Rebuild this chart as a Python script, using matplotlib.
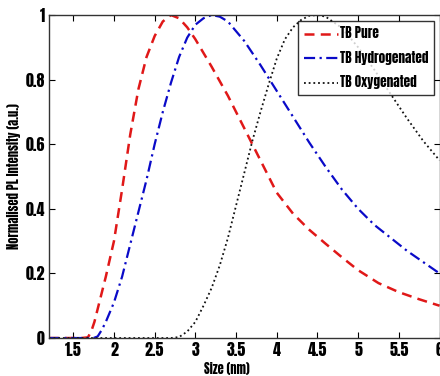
import matplotlib
matplotlib.use("Agg")
import matplotlib.pyplot as plt

size_nm_pure = [1.2, 1.4, 1.6, 1.68, 1.72, 1.76, 1.8, 1.85, 1.9, 2.0, 2.1, 2.2, 2.3, 2.4, 2.5, 2.6,
                2.7, 2.8, 2.9, 3.0, 3.2, 3.4, 3.6, 3.8, 4.0, 4.2, 4.4, 4.6, 4.8, 5.0, 5.25, 5.5,
                5.75, 6.0]
pure = [0, 0, 0, 0.002, 0.02, 0.05, 0.09, 0.14, 0.19, 0.30, 0.46, 0.63, 0.77, 0.87, 0.935, 0.98,
        1.0, 0.99, 0.962, 0.925, 0.84, 0.75, 0.65, 0.55, 0.45, 0.385, 0.335, 0.292, 0.25, 0.21,
        0.17, 0.142, 0.12, 0.10]

size_nm_hyd = [1.2, 1.5, 1.75, 1.8, 1.85, 1.9, 2.0, 2.1, 2.2, 2.3, 2.4, 2.5, 2.6, 2.7, 2.8, 2.9,
               3.0, 3.1, 3.2, 3.3, 3.4, 3.6, 3.8, 4.0, 4.2, 4.4, 4.6, 4.8, 5.0, 5.2, 5.4, 5.6,
               5.8, 6.0]
hydrogenated = [0, 0, 0, 0.005, 0.025, 0.05, 0.11, 0.19, 0.29, 0.39, 0.49, 0.60, 0.70, 0.79, 0.87,
                0.93, 0.97, 0.99, 1.0, 0.995, 0.98, 0.92, 0.845, 0.765, 0.685, 0.605, 0.53, 0.46,
                0.40, 0.35, 0.31, 0.27, 0.235, 0.20]

size_nm_oxy = [1.2, 2.0, 2.7, 2.8, 2.9, 3.0, 3.1, 3.2, 3.3, 3.4, 3.5, 3.6, 3.7, 3.8, 3.9, 4.0,
               4.1, 4.2, 4.3, 4.4, 4.5, 4.6, 4.8, 5.0, 5.2, 5.4, 5.6, 5.8, 6.0]
oxygenated = [0, 0, 0, 0.003, 0.02, 0.05, 0.10, 0.155, 0.225, 0.31, 0.41, 0.51, 0.61, 0.70, 0.785,
              0.865, 0.925, 0.962, 0.985, 0.998, 1.0, 0.995, 0.96, 0.90, 0.83, 0.755, 0.68, 0.61,
              0.55]

labels = ["TB Pure", "TB Hydrogenated", "TB Oxygenated"]
x_ticks = [1.5, 2, 2.5, 3, 3.5, 4, 4.5, 5, 5.5, 6]
x_tick_labels = ["1.5", "2", "2.5", "3", "3.5", "4", "4.5", "5", "5.5", "6"]
y_ticks = [0, 0.2, 0.4, 0.6, 0.8, 1]
y_tick_labels = ["0", "0.2", "0.4", "0.6", "0.8", "1"]

plt.rcParams["font.family"] = ["Anton", "Barlow Condensed", "DejaVu Sans"]

fig = plt.figure(figsize=(4.4, 3.76), dpi=100)
ax = fig.add_axes([0.111, 0.101, 0.888, 0.859])

ax.plot(size_nm_pure, pure, color="#e01818", lw=1.8, ls=(0, (4, 2.5)), label=labels[0])
ax.plot(size_nm_hyd, hydrogenated, color="#0a0ac8", lw=1.6, ls=(0, (5, 2, 1, 2)), label=labels[1])
ax.plot(size_nm_oxy, oxygenated, color="#111111", lw=1.3, ls=(0, (1, 1.6)), label=labels[2])

ax.set_xlim(1.2, 6)
ax.set_ylim(0, 1)
ax.set_xticks(x_ticks)
ax.set_xticklabels(x_tick_labels)
ax.set_yticks(y_ticks)
ax.set_yticklabels(y_tick_labels)
ax.tick_params(direction="in", top=True, right=True, length=4, labelsize=11.5, pad=3)
for s in ax.spines.values():
    s.set_color("#333333")
    s.set_linewidth(1.0)

ax.set_xlabel("Size (nm)", fontsize=9)
ax.xaxis.set_label_coords(0.455, -0.074)
ax.set_ylabel("Normalised PL Intensity (a.u.)", fontsize=9, labelpad=3)

leg = ax.legend(loc="upper right", prop={"size": 9.5}, frameon=True, fancybox=False,
                edgecolor="black", handlelength=2.6, borderaxespad=0.45,
                borderpad=0.4, labelspacing=0.8, handletextpad=0.15)
leg.get_frame().set_linewidth(1.0)

fig.savefig("out.png", dpi=100)
